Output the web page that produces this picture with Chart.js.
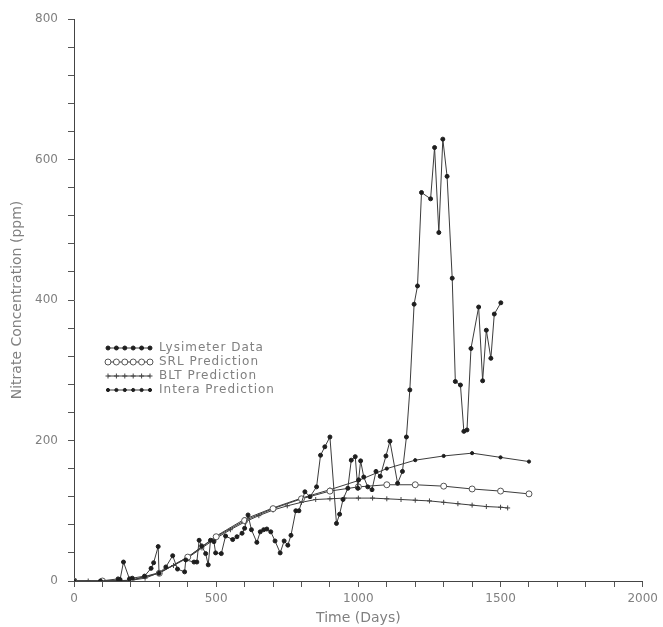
<!DOCTYPE html>
<html>
<head>
<meta charset="utf-8">
<script src="https://cdn.jsdelivr.net/npm/chart.js@4.4.1/dist/chart.umd.min.js"></script>
<style>
    html, body { margin: 0; padding: 0; background: #fff; }
    #wrap { width: 663px; height: 627px; }
</style>
</head>
<body>
<div id="wrap"><canvas id="nitrateChart" width="663" height="627"></canvas></div>
<script>
// data (days, ppm)
var lysDays = [0, 93, 155, 162, 174, 195, 205, 248, 271, 280, 296, 299, 323, 347, 364, 389, 393, 422, 432, 440, 449, 463, 472, 480, 492, 498, 518, 533, 558, 573, 591, 600, 612, 624, 643, 655, 667, 678, 692, 707, 725, 739, 752, 763, 780, 791, 812, 830, 853, 867, 882, 900, 923, 934, 946, 963, 975, 989, 998, 1001, 1008, 1019, 1033, 1048, 1062, 1077, 1097, 1111, 1138, 1155, 1169, 1181, 1196, 1208, 1222, 1254, 1268, 1283, 1297, 1312, 1330, 1341, 1359, 1371, 1382, 1396, 1423, 1437, 1450, 1466, 1478, 1501];
var lysValues = [0, 0, 3, 2, 27, 3, 4, 7, 18, 26, 49, 11, 20, 36, 17, 13, 30, 27, 27, 58, 50, 39, 23, 58, 56, 40, 39, 64, 59, 63, 68, 75, 94, 73, 55, 70, 73, 74, 70, 57, 40, 57, 51, 65, 100, 100, 127, 120, 134, 179, 191, 205, 82, 95, 116, 132, 172, 177, 132, 144, 171, 148, 134, 130, 156, 149, 178, 199, 139, 156, 205, 272, 394, 420, 553, 544, 617, 496, 629, 576, 431, 284, 279, 213, 215, 331, 390, 285, 357, 317, 380, 396];

var srlDays = [0, 100, 200, 300, 400, 500, 600, 700, 800, 900, 1000, 1100, 1200, 1300, 1400, 1500, 1600];
var srlValues = [0, 0, 1, 11, 34, 63, 86, 103, 117, 128, 134, 137, 137, 135, 131, 128, 124];

var bltDays = [0, 50, 100, 150, 200, 250, 300, 350, 400, 450, 500, 550, 600, 650, 700, 750, 800, 850, 900, 950, 1000, 1050, 1100, 1150, 1200, 1250, 1300, 1350, 1400, 1450, 1500, 1525];
var bltValues = [0, 0, 0, 0, 1, 4, 12, 22, 33, 47, 61, 73, 84, 93, 101, 107, 112, 116, 117, 118, 118, 118, 117, 116, 115, 114, 112, 110, 108, 106, 105, 104];

var interaDays = [0, 100, 200, 300, 400, 500, 600, 700, 800, 900, 1000, 1100, 1200, 1300, 1400, 1500, 1600];
var interaValues = [0, 0, 1, 12, 34, 64, 88, 104, 118, 130, 143, 160, 172, 178, 182, 176, 170];

var xLabelValues = [0, 500, 1000, 1500, 2000];
var yLabelValues = [0, 200, 400, 600, 800];

function toPoints(xs, ys) {
    return xs.map(function (x, i) { return { x: x, y: ys[i] }; });
}

var lineColor = '#3c3c3c';
var markColor = '#1e1e1e';
var textColor = '#808080';

function drawMark(ctx, ds, x, y) {
    var r = ds.pointRadius;
    ctx.save();
    ctx.strokeStyle = ds.pointBorderColor;
    ctx.fillStyle = ds.pointBackgroundColor;
    ctx.lineWidth = ds.pointBorderWidth;
    if (ds.pointStyle === 'cross') {
        ctx.beginPath();
        ctx.moveTo(x - r, y); ctx.lineTo(x + r, y);
        ctx.moveTo(x, y - r); ctx.lineTo(x, y + r);
        ctx.stroke();
    } else {
        ctx.beginPath();
        ctx.arc(x, y, r, 0, Math.PI * 2);
        ctx.fill();
        ctx.stroke();
    }
    ctx.restore();
}

var insideLegend = {
    id: 'insideLegend',
    afterDatasetsDraw: function (chart) {
        var ctx = chart.ctx;
        ctx.save();
        ctx.font = '12px "DejaVu Sans"';
        ctx.letterSpacing = '1px';
        ctx.textBaseline = 'middle';
        chart.data.datasets.forEach(function (ds, i) {
            var y = 348 + i * 14;
            ctx.strokeStyle = lineColor;
            ctx.lineWidth = 1;
            ctx.beginPath();
            ctx.moveTo(108, y);
            ctx.lineTo(150, y);
            ctx.stroke();
            for (var k = 0; k < 6; k++) {
                drawMark(ctx, ds, 108 + k * 8.4, y);
            }
            ctx.fillStyle = textColor;
            ctx.fillText(ds.label, 159, y);
        });
        ctx.restore();
    }
};

var ctx = document.getElementById('nitrateChart').getContext('2d');
var nitrateChart = new Chart(ctx, {
    type: 'scatter',
    data: {
        datasets: [
            {
                label: 'Lysimeter Data',
                data: toPoints(lysDays, lysValues),
                showLine: true,
                borderColor: lineColor,
                borderWidth: 1,
                pointStyle: 'circle',
                pointRadius: 2,
                pointBackgroundColor: markColor,
                pointBorderColor: markColor,
                pointBorderWidth: 1
            },
            {
                label: 'SRL Prediction',
                data: toPoints(srlDays, srlValues),
                showLine: true,
                borderColor: lineColor,
                borderWidth: 1,
                pointStyle: 'circle',
                pointRadius: 3,
                pointBackgroundColor: '#ffffff',
                pointBorderColor: '#555555',
                pointBorderWidth: 1
            },
            {
                label: 'BLT Prediction',
                data: toPoints(bltDays, bltValues),
                showLine: true,
                borderColor: lineColor,
                borderWidth: 1,
                pointStyle: 'cross',
                pointRadius: 2.5,
                pointBackgroundColor: markColor,
                pointBorderColor: '#444444',
                pointBorderWidth: 1
            },
            {
                label: 'Intera Prediction',
                data: toPoints(interaDays, interaValues),
                showLine: true,
                borderColor: lineColor,
                borderWidth: 1,
                pointStyle: 'circle',
                pointRadius: 1.6,
                pointBackgroundColor: markColor,
                pointBorderColor: markColor,
                pointBorderWidth: 1
            }
        ]
    },
    options: {
        responsive: false,
        animation: false,
        events: [],
        layout: { padding: { top: 19, right: 16, left: 0, bottom: 0 } },
        plugins: {
            legend: { display: false },
            tooltip: { enabled: false }
        },
        scales: {
            x: {
                type: 'linear',
                min: 0,
                max: 2000,
                afterFit: function (scale) { scale.height = 46; },
                border: { display: true, color: '#444', width: 1 },
                grid: { drawOnChartArea: false, drawTicks: true, tickLength: 6, color: '#555' },
                ticks: {
                    stepSize: 100,
                    autoSkip: false,
                    maxRotation: 0,
                    padding: 5,
                    color: textColor,
                    font: { family: 'DejaVu Sans', size: 12 },
                    callback: function (v) { return xLabelValues.indexOf(v) >= 0 ? String(v) : ''; }
                },
                title: {
                    display: true,
                    text: 'Time (Days)',
                    color: textColor,
                    font: { family: 'DejaVu Sans', size: 14 },
                    padding: { top: 0, bottom: 0 }
                }
            },
            y: {
                type: 'linear',
                min: 0,
                max: 800,
                afterFit: function (scale) { scale.width = 74; },
                border: { display: true, color: '#444', width: 1 },
                grid: { drawOnChartArea: false, drawTicks: true, tickLength: 6, color: '#555' },
                ticks: {
                    stepSize: 40,
                    autoSkip: false,
                    padding: 10,
                    color: textColor,
                    font: { family: 'DejaVu Sans', size: 12 },
                    callback: function (v) { return yLabelValues.indexOf(v) >= 0 ? String(v) : ''; }
                },
                title: {
                    display: true,
                    text: 'Nitrate Concentration (ppm)',
                    color: textColor,
                    font: { family: 'DejaVu Sans', size: 14 },
                    padding: { top: 9, bottom: 0 }
                }
            }
        }
    },
    plugins: [insideLegend]
});
</script>
</body>
</html>
